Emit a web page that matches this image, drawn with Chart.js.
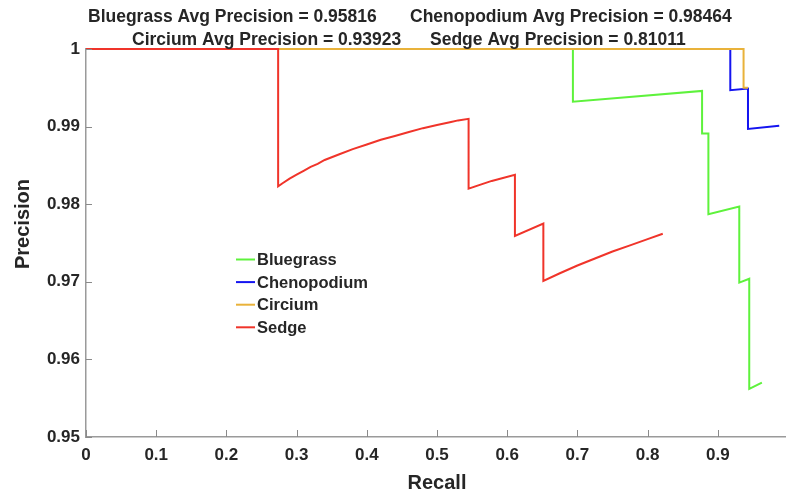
<!DOCTYPE html>
<html>
<head>
<meta charset="utf-8">
<title>Precision-Recall</title>
<script src="https://cdn.jsdelivr.net/npm/chart.js@4/dist/chart.umd.min.js"></script>
<style>
  html, body { margin: 0; padding: 0; background: #fff; overflow: hidden; }
  #wrap { width: 800px; height: 495px; }
</style>
</head>
<body>
<div id="wrap"><canvas id="pr" width="800" height="495"></canvas></div>
<script>
// Precision-recall curves per class (recall, precision pairs)
const classNames = ['Bluegrass', 'Chenopodium', 'Circium', 'Sedge'];
const avgPrecision = ['0.95816', '0.98464', '0.93923', '0.81011'];

const bluegrassRecall    = [0, 0.6936, 0.6936, 0.8776, 0.8776, 0.8866, 0.8866, 0.9306, 0.9306, 0.9448, 0.9448, 0.9628];
const bluegrassPrecision = [1, 1, 0.9932, 0.9946, 0.9891, 0.9891, 0.9787, 0.9797, 0.9699, 0.9704, 0.9562, 0.9570];

const chenopodiumRecall    = [0, 0.9178, 0.9178, 0.9430, 0.9430, 0.9875];
const chenopodiumPrecision = [1, 1, 0.9947, 0.9949, 0.9897, 0.9901];

const circiumRecall    = [0, 0.9367, 0.9367, 0.9430];
const circiumPrecision = [1, 1, 0.9950, 0.9950];

const sedgeRecall = [0, 0.2737, 0.2737, 0.28, 0.29, 0.30, 0.31, 0.32, 0.33, 0.34, 0.36, 0.38, 0.40,
                     0.42, 0.44, 0.46, 0.48, 0.50, 0.52, 0.53, 0.545,
                     0.545, 0.578, 0.611, 0.611, 0.6515, 0.6515, 0.675, 0.70, 0.725, 0.75, 0.775, 0.80, 0.8216];
const sedgePrecision = [1, 1, 0.9823, 0.9827, 0.9833, 0.9838, 0.9843, 0.9848, 0.9852, 0.9857, 0.9864, 0.9871, 0.9877,
                        0.9883, 0.9888, 0.9893, 0.9898, 0.9902, 0.9906, 0.9908, 0.9910,
                        0.9820, 0.9830, 0.9838, 0.9759, 0.9775, 0.9701, 0.9711, 0.9721, 0.9730, 0.9739, 0.9747, 0.9755, 0.9762];

const xTicks = [0, 0.1, 0.2, 0.3, 0.4, 0.5, 0.6, 0.7, 0.8, 0.9, 1];
const yTicks = [0.95, 0.96, 0.97, 0.98, 0.99, 1];

const colors = ['#5ef23c', '#1414f0', '#e9b23a', '#f0342a'];

const pairs = (xs, ys) => xs.map((x, i) => ({ x: x, y: ys[i] }));
const seriesData = [
  pairs(bluegrassRecall, bluegrassPrecision),
  pairs(chenopodiumRecall, chenopodiumPrecision),
  pairs(circiumRecall, circiumPrecision),
  pairs(sedgeRecall, sedgePrecision)
];
// drawing order: Sedge on top, then Circium, Chenopodium, Bluegrass
const drawOrder = [3, 2, 1, 0];

const FONT = '"Liberation Sans", Arial, Helvetica, sans-serif';
const TEXT = '#262626';

// Title lines, inward tick marks, the y-axis title and the in-plot legend
const decorations = {
  id: 'decorations',
  afterDraw(chart) {
    const ctx = chart.ctx;
    const area = chart.chartArea;
    const xs = chart.scales.x, ys = chart.scales.y;
    ctx.save();

    // inward ticks
    ctx.strokeStyle = '#8a8a8a';
    ctx.lineWidth = 1;
    ctx.beginPath();
    xTicks.forEach(v => {
      const px = Math.round(xs.getPixelForValue(v)) + 0.5;
      ctx.moveTo(px, area.bottom);
      ctx.lineTo(px, area.bottom - 7);
    });
    yTicks.forEach(v => {
      const py = Math.round(ys.getPixelForValue(v)) + 0.5;
      ctx.moveTo(area.left, py);
      ctx.lineTo(area.left + 6, py);
    });
    ctx.stroke();

    // title
    ctx.fillStyle = TEXT;
    ctx.font = 'bold 17.5px ' + FONT;
    ctx.textBaseline = 'middle';
    ctx.textAlign = 'left';
    const t = classNames.map((n, i) => n + ' Avg Precision = ' + avgPrecision[i]);
    ctx.fillText(t[0], 88, 17);
    ctx.fillText(t[1], 410, 17);
    ctx.fillText(t[2], 132, 40);
    ctx.fillText(t[3], 430, 40);

    // y-axis title
    ctx.save();
    ctx.translate(23, 224);
    ctx.rotate(-Math.PI / 2);
    ctx.textAlign = 'center';
    ctx.font = 'bold 20px ' + FONT;
    ctx.fillText('Precision', 0, 0);
    ctx.restore();

    // legend
    ctx.font = 'bold 16.5px ' + FONT;
    ctx.textAlign = 'left';
    classNames.forEach((n, i) => {
      const y = 259.5 + i * 22.6;
      ctx.strokeStyle = colors[i];
      ctx.lineWidth = 2;
      ctx.beginPath();
      ctx.moveTo(236, y);
      ctx.lineTo(255, y);
      ctx.stroke();
      ctx.fillStyle = TEXT;
      ctx.fillText(n, 257, y + 1);
    });
    ctx.restore();
  }
};

new Chart(document.getElementById('pr'), {
  type: 'line',
  data: {
    datasets: classNames.map((n, i) => ({
      label: n,
      data: seriesData[i],
      borderColor: colors[i],
      backgroundColor: colors[i],
      borderWidth: 2,
      pointRadius: 0,
      tension: 0,
      fill: false,
      clip: false,
      order: drawOrder.indexOf(i)
    }))
  },
  options: {
    responsive: false,
    animation: false,
    devicePixelRatio: 1,
    layout: { padding: { left: 0, right: 12, top: 49, bottom: 0 } },
    plugins: {
      legend: { display: false },
      title: { display: false },
      tooltip: { enabled: false }
    },
    scales: {
      x: {
        type: 'linear',
        min: 0,
        max: 1,
        afterBuildTicks: s => { s.ticks = xTicks.map(v => ({ value: v })); },
        afterFit: s => { s.height = 58; },
        grid: { display: false, drawTicks: false },
        border: { display: true, color: '#9a9a9a', width: 1.5 },
        ticks: {
          padding: 8,
          color: TEXT,
          font: { family: FONT, size: 17, weight: 'bold' },
          maxRotation: 0,
          autoSkip: false,
          callback: v => (v >= 0.999 ? '' : String(+v.toFixed(1)))
        },
        title: {
          display: true,
          text: 'Recall',
          color: TEXT,
          font: { family: FONT, size: 20, weight: 'bold' },
          padding: { top: 0, bottom: 0 }
        }
      },
      y: {
        type: 'linear',
        min: 0.95,
        max: 1,
        afterBuildTicks: s => { s.ticks = yTicks.map(v => ({ value: v })); },
        afterFit: s => { s.width = 86; },
        grid: { display: false, drawTicks: false },
        border: { display: true, color: '#9a9a9a', width: 1.5 },
        ticks: {
          padding: 6,
          color: TEXT,
          font: { family: FONT, size: 17, weight: 'bold' },
          autoSkip: false,
          callback: v => String(+v.toFixed(2))
        }
      }
    }
  },
  plugins: [decorations]
});
</script>
</body>
</html>
